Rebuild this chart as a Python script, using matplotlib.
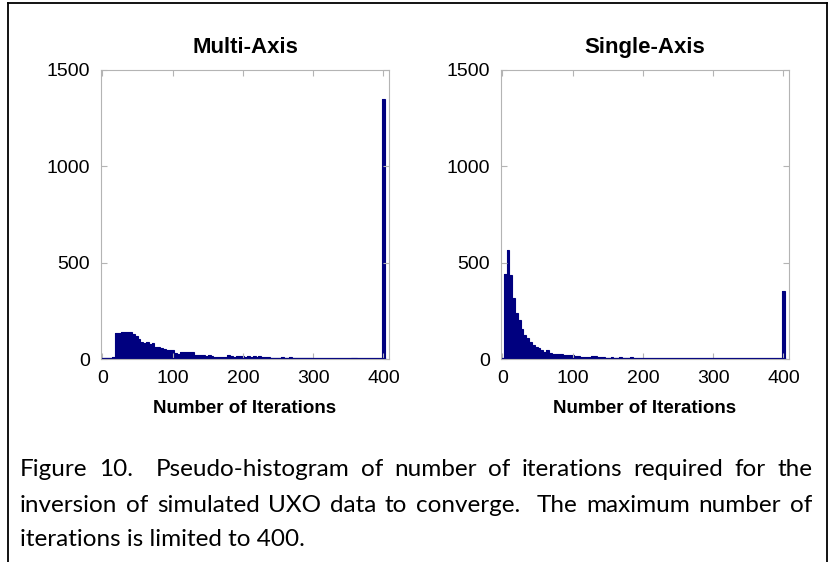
import numpy as np
import matplotlib
matplotlib.use("Agg")
import matplotlib.pyplot as plt
from matplotlib.font_manager import FontProperties
from matplotlib.lines import Line2D

# bin centres: 4, 8, ..., 400 (width 4)
bin_centers = np.arange(4, 401, 4)

multi_counts = [
    5, 7, 6, 8, 133, 133, 138, 138, 142, 142,          # 4..40
    128, 119, 102, 90, 81, 90, 76, 84, 64, 64,         # 44..80
    55, 50, 48, 45, 48, 29, 25, 35, 35, 35,            # 84..120
    35, 38, 21, 21, 20, 22, 18, 20, 15, 12,            # 124..160
    12, 12, 10, 12, 20, 18, 10, 14, 16, 14,            # 164..200
    12, 18, 12, 14, 10, 14, 12, 10, 12, 5,             # 204..240
    4, 4, 3, 8, 4, 3, 8, 3, 6, 3,                      # 244..280
    3, 3, 3, 6, 2, 2, 2, 2, 2, 2,                      # 284..320
    2, 2, 2, 2, 2, 2, 2, 2, 7, 6,                      # 324..360
    2, 1, 1, 1, 1, 1, 1, 1, 1, 1350,                   # 364..400
]

single_counts = [
    440, 566, 436, 317, 240, 200, 156, 125, 109, 90,   # 4..40
    73, 64, 57, 47, 38, 45, 31, 28, 25, 24,            # 44..80
    28, 22, 22, 20, 20, 18, 15, 12, 12, 12,            # 84..120
    12, 14, 15, 10, 10, 10, 6, 5, 10, 4,               # 124..160
    3, 9, 3, 3, 3, 8, 2, 1, 1, 1,                      # 164..200
    1, 1, 1, 1, 1, 1, 1, 1, 1, 1,                      # 204..240
    1, 1, 1, 1, 1, 1, 1, 1, 1, 1,                      # 244..280
    1, 1, 1, 1, 1, 1, 1, 1, 1, 1,                      # 284..320
    1, 1, 1, 1, 1, 1, 1, 1, 1, 1,                      # 324..360
    1, 1, 1, 1, 1, 1, 1, 1, 1, 355,                    # 364..400
]

titles = ["Multi-Axis", "Single-Axis"]
xlabel = "Number of Iterations"
x_ticks = [0, 100, 200, 300, 400]
y_ticks = [0, 500, 1000, 1500]

caption_lines = [
    "Figure 10.  Pseudo-histogram of number of iterations required for the",
    "inversion of simulated UXO data to converge.  The maximum number of",
    "iterations is limited to 400.",
]

W, H = 833, 562
BAR = "#00007f"
GRID_GREY = "#b4b4b4"

fig = plt.figure(figsize=(W / 100, H / 100), dpi=100)

ax_left_px = [101, 501]
bin_edges = np.append(bin_centers - 2, bin_centers[-1] + 2)
for i, counts in enumerate([multi_counts, single_counts]):
    ax = fig.add_axes([ax_left_px[i] / W, 1 - 359 / H, 288 / W, 289 / H])
    ax.stairs(counts, bin_edges, fill=True, color=BAR, lw=0)
    ax.stairs(counts, bin_edges, color=BAR, lw=0.8)
    ax.axhline(0, color=BAR, lw=1.6, xmin=0.005, xmax=0.985)
    ax.set_xlim(-2, 408)
    ax.set_ylim(0, 1500)
    ax.set_xticks(x_ticks)
    ax.set_yticks(y_ticks)
    ax.tick_params(direction="in", length=4, color=GRID_GREY, top=True, right=True,
                   labelsize=14, pad=8)
    for lab in ax.get_xticklabels() + ax.get_yticklabels():
        lab.set_family("Liberation Sans")
    for s in ax.spines.values():
        s.set_color(GRID_GREY)
        s.set_linewidth(0.8)
    ax.set_title(titles[i], fontsize=16, fontweight="bold", family="Liberation Sans", pad=12)
    ax.set_xlabel(xlabel, fontsize=13.5, fontweight="bold",
                  family="Liberation Sans", labelpad=9)

# border around the whole figure
for xs, ys in [([8, 8], [3, H + 5]), ([8, 827], [3, 3]), ([827, 827], [3, H + 5])]:
    fig.add_artist(Line2D([x / W for x in xs], [1 - y / H for y in ys],
                          color="black", lw=1.3, transform=fig.transFigure))

# caption, justified by hand
fp = FontProperties(family=["Lato", "DejaVu Sans"], size=17.5)
renderer = fig.canvas.get_renderer()
x0, x1 = 20, 812
line_y = [470, 505, 540]
space_w = renderer.get_text_width_height_descent("a a", fp, ismath=False)[0] - \
    renderer.get_text_width_height_descent("aa", fp, ismath=False)[0]
for k, line in enumerate(caption_lines):
    yy = 1 - line_y[k] / H
    if k == len(caption_lines) - 1:
        fig.text(x0 / W, yy, line, fontproperties=fp, va="center", ha="left")
        continue
    words = line.split(" ")
    widths = [renderer.get_text_width_height_descent(w, fp, ismath=False)[0] if w else 0
              for w in words]
    n_gaps = len(words) - 1
    gap = (x1 - x0 - sum(widths)) / n_gaps
    gap = max(gap, space_w * 0.6)
    x = x0
    for w, wd in zip(words, widths):
        if w:
            fig.text(x / W, yy, w, fontproperties=fp, va="center", ha="left")
        x += wd + gap

fig.savefig("out.png", dpi=100)
